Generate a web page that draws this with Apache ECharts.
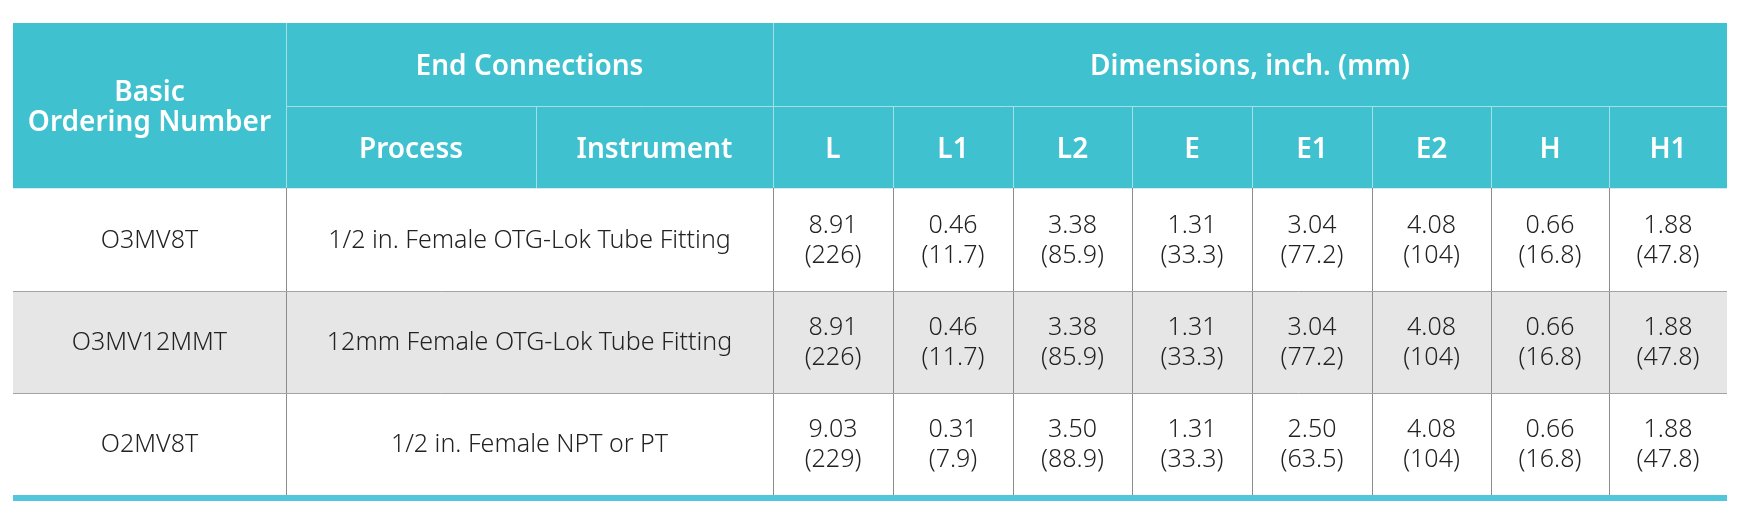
<html>
<head>
<meta http-equiv="Content-Type" content="text/html; charset=utf-8" />
<script src="https://cdn.jsdelivr.net/npm/echarts@6.0.0/dist/echarts.min.js"></script>
</head>
<body style="margin:0;background:#fff;">
<div id="table" style="width:1744px;height:522px;"></div>
<script type="text/javascript">
// table content
var groupHeaders = ['Basic\nOrdering Number', 'End Connections', 'Dimensions, inch. (mm)'];
var subHeaders = ['Process', 'Instrument'];
var dimLabels = ['L', 'L1', 'L2', 'E', 'E1', 'E2', 'H', 'H1'];
var orderNumbers = ['O3MV8T', 'O3MV12MMT', 'O2MV8T'];
var endConnections = [
    '1/2 in. Female OTG-Lok Tube Fitting',
    '12mm Female OTG-Lok Tube Fitting',
    '1/2 in. Female NPT or PT'
];
var dimInch = [
    ['8.91', '0.46', '3.38', '1.31', '3.04', '4.08', '0.66', '1.88'],
    ['8.91', '0.46', '3.38', '1.31', '3.04', '4.08', '0.66', '1.88'],
    ['9.03', '0.31', '3.50', '1.31', '2.50', '4.08', '0.66', '1.88']
];
var dimMm = [
    ['226', '11.7', '85.9', '33.3', '77.2', '104', '16.8', '47.8'],
    ['226', '11.7', '85.9', '33.3', '77.2', '104', '16.8', '47.8'],
    ['229', '7.9', '88.9', '33.3', '63.5', '104', '16.8', '47.8']
];

// layout (axis units)
var colEdges = [0, 273, 523, 760, 880, 1000, 1119, 1239, 1359, 1478, 1596, 1714];
var rowEdges = [0, 83, 165, 268, 370, 472];
var bottomBar = 6;

var TEAL = '#40c1cf';
var HEAD_LINE = '#a6dee5';
var BODY_LINE = '#8c8c8c';

var myChart = echarts.init(document.getElementById('table'));

// cells
var cells = [];
function cell(c0, c1, r0, r1, text, kind, fill) {
    cells.push({ x0: colEdges[c0], x1: colEdges[c1], y0: rowEdges[r0], y1: rowEdges[r1], text: text, kind: kind, fill: fill });
}
cell(0, 1, 0, 2, groupHeaders[0], 'head', TEAL);
cell(1, 3, 0, 1, groupHeaders[1], 'head', TEAL);
cell(3, 11, 0, 1, groupHeaders[2], 'head', TEAL);
cell(1, 2, 1, 2, subHeaders[0], 'head', TEAL);
cell(2, 3, 1, 2, subHeaders[1], 'head', TEAL);
for (var d = 0; d < dimLabels.length; d++) {
    cell(3 + d, 4 + d, 1, 2, dimLabels[d], 'head', TEAL);
}
for (var r = 0; r < orderNumbers.length; r++) {
    var bg = r % 2 === 1 ? '#e6e6e6' : '#ffffff';
    cell(0, 1, 2 + r, 3 + r, orderNumbers[r], 'body', bg);
    cell(1, 3, 2 + r, 3 + r, endConnections[r], 'body', bg);
    for (var d = 0; d < dimLabels.length; d++) {
        cell(3 + d, 4 + d, 2 + r, 3 + r, dimInch[r][d] + '\n(' + dimMm[r][d] + ')', 'body', bg);
    }
}

// grid lines
var lines = [];
var W = colEdges[colEdges.length - 1];
var hTop = rowEdges[0], hMid = rowEdges[1], hBot = rowEdges[2], bBot = rowEdges[rowEdges.length - 1];
lines.push([colEdges[1], hMid, W, hMid, HEAD_LINE]);
lines.push([colEdges[1], hTop, colEdges[1], hBot, HEAD_LINE]);
lines.push([colEdges[3], hTop, colEdges[3], hBot, HEAD_LINE]);
lines.push([colEdges[2], hMid, colEdges[2], hBot, HEAD_LINE]);
for (var i = 4; i < colEdges.length - 1; i++) {
    lines.push([colEdges[i], hMid, colEdges[i], hBot, HEAD_LINE]);
}
lines.push([0, hBot, W, hBot, '#d6e9ec']);
lines.push([colEdges[1], hBot, colEdges[1], bBot, BODY_LINE]);
for (var i = 3; i < colEdges.length - 1; i++) {
    lines.push([colEdges[i], hBot, colEdges[i], bBot, BODY_LINE]);
}
for (var i = 3; i < rowEdges.length - 1; i++) {
    lines.push([0, rowEdges[i], W, rowEdges[i], '#a3a3a3']);
}

myChart.setOption({
    animation: false,
    grid: { left: 13, top: 23, width: W, height: bBot + bottomBar },
    xAxis: { type: 'value', min: 0, max: W, show: false },
    yAxis: { type: 'value', min: 0, max: bBot + bottomBar, inverse: true, show: false },
    series: [{
        type: 'custom',
        coordinateSystem: 'cartesian2d',
        data: cells.map(function (c) { return [c.x0, c.y0, c.x1, c.y1]; }),
        renderItem: function (params, api) {
            var c = cells[params.dataIndex];
            var p0 = api.coord([api.value(0), api.value(1)]);
            var p1 = api.coord([api.value(2), api.value(3)]);
            var head = c.kind === 'head';
            return {
                type: 'group',
                children: [{
                    type: 'rect',
                    shape: { x: p0[0], y: p0[1], width: p1[0] - p0[0], height: p1[1] - p0[1] },
                    style: { fill: c.fill }
                }, {
                    type: 'text',
                    x: (p0[0] + p1[0]) / 2,
                    y: (p0[1] + p1[1]) / 2 + (head ? 3 : 1),
                    style: {
                        text: c.text,
                        fill: head ? '#ffffff' : '#222222',
                        fontFamily: 'Noto Sans',
                        fontSize: head ? 28 : 25,
                        fontWeight: head ? 600 : 300,
                        lineHeight: head ? 30 : 30,
                        align: 'center',
                        verticalAlign: 'middle'
                    }
                }]
            };
        }
    }, {
        type: 'custom',
        coordinateSystem: 'cartesian2d',
        data: lines.map(function (l) { return l.slice(0, 4); }),
        renderItem: function (params, api) {
            var a = api.coord([api.value(0), api.value(1)]);
            var b = api.coord([api.value(2), api.value(3)]);
            var vert = a[0] === b[0];
            return {
                type: 'line',
                shape: {
                    x1: vert ? Math.round(a[0]) + 0.5 : a[0],
                    y1: vert ? a[1] : Math.round(a[1]) + 0.5,
                    x2: vert ? Math.round(b[0]) + 0.5 : b[0],
                    y2: vert ? b[1] : Math.round(b[1]) + 0.5
                },
                style: { stroke: lines[params.dataIndex][4], lineWidth: 1 }
            };
        }
    }, {
        type: 'custom',
        coordinateSystem: 'cartesian2d',
        data: [[0, bBot, W, bBot + bottomBar]],
        renderItem: function (params, api) {
            var p0 = api.coord([api.value(0), api.value(1)]);
            var p1 = api.coord([api.value(2), api.value(3)]);
            return {
                type: 'rect',
                shape: { x: p0[0], y: p0[1], width: p1[0] - p0[0], height: p1[1] - p0[1] },
                style: { fill: '#52c6da' }
            };
        }
    }]
});
</script>
</body>
</html>
